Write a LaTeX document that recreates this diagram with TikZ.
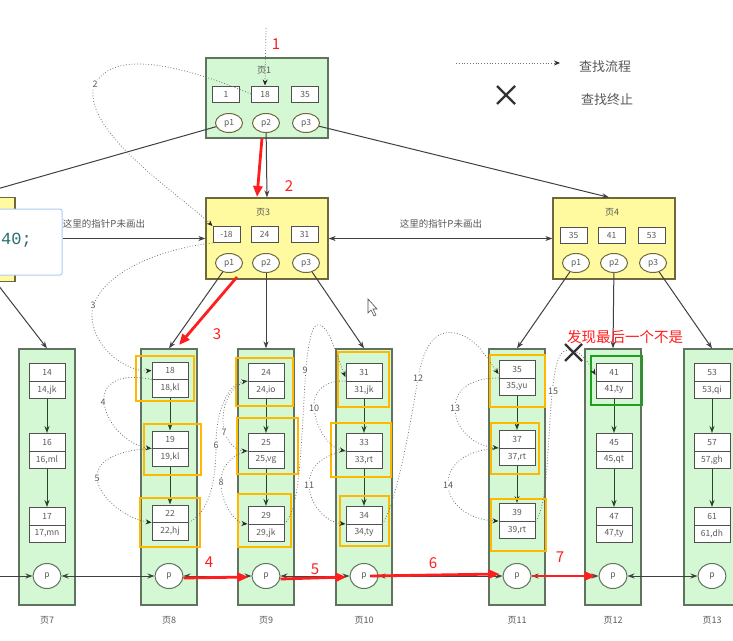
\documentclass[tikz,border=0pt]{standalone}
\usepackage{fontspec}
\setmainfont{Noto Sans CJK SC}
\newfontfamily\monof{Liberation Mono}
\usetikzlibrary{arrows.meta,shapes.geometric}
\definecolor{leafg}{RGB}{212,247,212}
\definecolor{leafb}{RGB}{95,115,95}
\definecolor{yel}{RGB}{255,250,160}
\definecolor{yelb}{RGB}{110,105,60}
\definecolor{keyb}{RGB}{80,80,80}
\definecolor{txt}{RGB}{90,90,90}
\definecolor{org}{RGB}{255,184,0}
\definecolor{hg}{RGB}{30,160,30}
\definecolor{rd}{RGB}{255,30,30}
\definecolor{dgreen}{RGB}{40,70,40}
\definecolor{tipb}{RGB}{170,205,240}
\definecolor{teal}{RGB}{40,110,110}
\tikzset{
 pagebox/.style={draw=leafb,line width=1.3pt,fill=leafg,inner sep=0},
 ypage/.style={draw=yelb,line width=1.3pt,fill=yel,inner sep=0},
 key/.style={draw=keyb,line width=1pt,fill=white,minimum width=27pt,minimum height=16pt,inner sep=0,font=\fontsize{8.5}{8.5}\selectfont,text=txt},
 ptr/.style={ellipse,draw=yelb,line width=1pt,fill=white,minimum width=27pt,minimum height=19pt,inner sep=0,font=\fontsize{8.5}{8.5}\selectfont,text=txt},
 leaf/.style={draw=leafb,line width=1.3pt,fill=leafg,minimum width=56pt,minimum height=256pt,inner sep=0},
 recbox/.style={draw=keyb,line width=1pt,fill=white,minimum width=36pt,minimum height=35pt,inner sep=0},
 rtext/.style={font=\fontsize{8.5}{8.5}\selectfont,text=txt,inner sep=0},
 pc/.style={ellipse,draw=leafb,line width=1pt,fill=white,minimum width=28pt,minimum height=25pt,inner sep=0,font=\fontsize{8.5}{8.5}\selectfont,text=txt},
 conn/.style={draw=black!75,line width=1pt,-{Stealth[length=7pt,width=5pt]}},
 dconn/.style={draw=black!75,line width=1pt,{Stealth[length=7pt,width=5pt]}-{Stealth[length=7pt,width=5pt]}},
 innerarr/.style={draw=dgreen,line width=1pt,-{Stealth[length=7pt,width=5pt]}},
 flow/.style={draw=black!55,dotted,line width=0.8pt,-{Stealth[length=6pt,width=5pt,color=black!85]}},
 flab/.style={font=\fontsize{9}{9}\selectfont,text=txt,fill=white,inner sep=0.5pt},
 redarr/.style={draw=rd,line width=2.8pt,-{Triangle[length=11pt,width=9pt]}},
 rlab/.style={font=\fontsize{15}{15}\selectfont,text=rd,inner sep=0},
 hl/.style={draw=org,line width=1.8pt},
 plab/.style={font=\fontsize{9}{9}\selectfont,text=txt,inner sep=0},
 xmark/.style={draw=black!80,line width=2.2pt},
}
\newcommand\rec[5]{%
 \node[recbox] (#1) at (#2,#3) {};
 \draw[draw=keyb,line width=1pt] (#1.west) -- (#1.east);
 \node[rtext] at ([yshift=8.75pt]#1.center) {#4};
 \node[rtext] at ([yshift=-8.75pt]#1.center) {#5};
}
\begin{document}
\begin{tikzpicture}[x=1pt,y=-1pt]
\fill[white] (0,0) rectangle (733,640);
\clip (0,0) rectangle (733,640);

% ---------- left partial page and overlay ----------
\node[ypage,minimum width=30pt,minimum height=84pt] (lpg) at (0,239.5) {};
\coordinate (lpb) at (-5,281);
\coordinate (offl) at (-10,191);

% ---------- page 1 ----------
\node[pagebox,minimum width=122pt,minimum height=80pt] (pg1) at (267,98) {};
\node[plab] (t1) at (264,70) {页1};
\node[key] (k11) at (226,94) {1};
\node[key] (k12) at (265,94) {18};
\node[key] (k13) at (305,94) {35};
\node[ptr] (e11) at (229,123) {p1};
\node[ptr] (e12) at (266,123) {p2};
\node[ptr] (e13) at (306,123) {p3};

% ---------- page 3 ----------
\node[ypage,minimum width=122pt,minimum height=81pt] (pg3) at (267,238.5) {};
\node[plab] (t3) at (263,212) {页3};
\node[key] (k31) at (226.5,234.5) {-18};
\node[key] (k32) at (264.5,234.5) {24};
\node[key] (k33) at (304.5,234.5) {31};
\node[ptr] (e31) at (229,263) {p1};
\node[ptr] (e32) at (266,263) {p2};
\node[ptr] (e33) at (306,263) {p3};

% ---------- page 4 ----------
\node[ypage,minimum width=122pt,minimum height=81pt] (pg4) at (614,238.5) {};
\node[plab] (t4) at (612,212) {页4};
\node[key] (k41) at (573.5,235) {35};
\node[key] (k42) at (611.5,235) {41};
\node[key] (k43) at (651.5,235) {53};
\node[ptr] (e41) at (576,263) {p1};
\node[ptr] (e42) at (614,263) {p2};
\node[ptr] (e43) at (653,263) {p3};

% ---------- upper connectors ----------
\draw[conn] (e11) -- (offl);
\draw[conn] (e12) -- (pg3.north);
\draw[conn] (e13) -- ([xshift=-5pt]pg4.north);

\node[draw=tipb,line width=1pt,fill=white,rounded corners=2pt,minimum width=67pt,minimum height=66pt,inner sep=0] (tipbox) at (28.5,242) {};
\node[font=\monof\fontsize{17}{17}\selectfont,text=teal,anchor=west,inner sep=0] (tiptext) at (1,240) {40;};

\draw[conn] (tipbox.east |- pg3.west) -- (pg3.west);
\node[font=\fontsize{9.5}{9.5}\selectfont,text=txt] (n1) at (104,224) {这里的指针P未画出};
\draw[dconn] (pg3.east) -- (pg4.west);
\node[font=\fontsize{9.5}{9.5}\selectfont,text=txt] (n2) at (441,224) {这里的指针P未画出};

% ---------- leaf pages ----------
\foreach \n/\x in {7/47,8/169,9/266,10/364,11/517,12/613,13/712}{
  \node[leaf] (L\n) at (\x,477) {};
  \node[plab] (lab\n) at (\x,620) {页\n};
}

\rec{r14}{47}{381}{14}{14,jk}
\rec{r16}{47}{451}{16}{16,ml}
\rec{r17}{47}{525}{17}{17,mn}
\rec{r18}{170}{379.5}{18}{18,kl}
\rec{r19}{170}{448.5}{19}{19,kl}
\rec{r22}{170}{522.5}{22}{22,hj}
\rec{r24}{266}{381}{24}{24,io}
\rec{r25}{266}{451}{25}{25,vg}
\rec{r29}{266}{524}{29}{29,jk}
\rec{r31}{364}{381}{31}{31,jk}
\rec{r33}{364}{451}{33}{33,rt}
\rec{r34}{364}{524}{34}{34,ty}
\rec{r35}{517}{378}{35}{35,yu}
\rec{r37}{517}{448}{37}{37,rt}
\rec{r39}{517}{521}{39}{39,rt}
\rec{r41}{614}{381}{41}{41,ty}
\rec{r45}{614}{451}{45}{45,qt}
\rec{r47}{614}{525}{47}{47,ty}
\rec{r53}{712}{381}{53}{53,qi}
\rec{r57}{712}{451}{57}{57,gh}
\rec{r61}{712}{525}{61}{61,dh}

\foreach \a/\b in {r14/r16,r16/r17,r18/r19,r19/r22,r24/r25,r25/r29,r31/r33,r33/r34,r35/r37,r37/r39,r41/r45,r45/r47,r53/r57,r57/r61}{
  \draw[innerarr] (\a.south) -- (\b.north);
}

\foreach \n/\x in {7/47,8/169,9/266,10/364,11/517,12/613,13/712}{
  \node[pc] (c\n) at (\x,576) {p};
}

% ---------- connectors to leaves ----------
\draw[conn] (lpb) -- (L7.north);
\draw[conn] (e31) -- (L8.north);
\draw[conn] (e32) -- (L9.north);
\draw[conn] (e33) -- (L10.north);
\draw[conn] (e41) -- (L11.north);
\draw[conn] (e42) -- (L12.north);
\draw[conn] (e43) -- (L13.north);

\coordinate (chl) at (-5,576);
\draw[conn] (chl) -- (c7);
\draw[dconn] (c7) -- (c8);
\draw[dconn] (c8) -- (c9);
\draw[dconn] (c9) -- (c10);
\draw[dconn] (c10) -- (c11);
\draw[dconn] (c11) -- (c12);
\draw[dconn] (c12) -- (c13);

% ---------- highlight boxes ----------
\draw[hl] (136,356) rectangle (194,401);
\draw[hl] (144,424) rectangle (201,475);
\draw[hl] (140,498) rectangle (200,547);
\draw[hl] (236,358) rectangle (293,406);
\draw[hl] (237,418) rectangle (298,474);
\draw[hl] (238,494) rectangle (291,547);
\draw[hl] (338,352) rectangle (389,407);
\draw[hl] (331,423) rectangle (391,477);
\draw[hl] (340,496) rectangle (389,546);
\draw[hl] (490,355) rectangle (545,407);
\draw[hl] (491,423) rectangle (539,474);
\draw[hl] (491,499) rectangle (546,551);
\draw[draw=hg,line width=1.8pt] (591,356) rectangle (642,405);

% ---------- search flow (dotted) ----------
\coordinate (topc) at (266,28);
\draw[flow] (topc) -- (k12.north);
\draw[flow] (k12.west) .. controls (170,60) and (105,50) .. (93,90) .. controls (88,135) and (180,195) .. (k31.north west);
\draw[flow] (k31.south west) .. controls (150,250) and (90,280) .. (92,318) .. controls (95,352) and (130,372) .. ([yshift=9pt]r18.west);
\draw[flow] (r18.west) .. controls (118,372) and (102,385) .. (104,402) .. controls (106,425) and (130,446) .. (r19.west);
\draw[flow] (r19.west) .. controls (115,450) and (96,462) .. (97,478) .. controls (99,500) and (130,520) .. (r22.west);
\draw[flow] (r22.east) .. controls (210,512) and (216,480) .. (216,445) .. controls (216,410) and (228,384) .. (r24.west);
\draw[flow] (r24.west) .. controls (228,386) and (220,410) .. (224,430) .. controls (228,445) and (238,451) .. (r25.west);
\draw[flow] (r25.west) .. controls (230,455) and (220,468) .. (221,485) .. controls (222,505) and (236,523) .. (r29.west);
\draw[flow] (r29.east) .. controls (298,510) and (300,470) .. (304,400) .. controls (307,340) and (312,322) .. (320,325) .. controls (330,328) and (338,360) .. ([yshift=4pt]r31.west);
\draw[flow] (r31.west) .. controls (325,380) and (312,392) .. (314,408) .. controls (316,430) and (330,448) .. (r33.west);
\draw[flow] (r33.west) .. controls (320,455) and (308,470) .. (309,485) .. controls (310,505) and (325,522) .. (r34.west);
\draw[flow] (r34.east) .. controls (395,505) and (408,440) .. (418,378) .. controls (425,338) and (440,330) .. (455,333) .. controls (475,337) and (485,355) .. ([yshift=4pt]r35.west);
\draw[flow] (r35.west) .. controls (470,378) and (455,390) .. (455,408) .. controls (455,430) and (475,446) .. (r37.west);
\draw[flow] (r37.west) .. controls (465,450) and (447,465) .. (448,485) .. controls (449,505) and (470,520) .. (r39.west);
\draw[flow] (r39.east) .. controls (545,510) and (547,470) .. (550,420) .. controls (553,375) and (556,352) .. (567,350) .. controls (580,349) and (588,362) .. ([yshift=6pt]r41.west);

\node[flab] (f2) at (95,84) {2};
\node[flab] (f3) at (93,305) {3};
\node[flab] (f4) at (103,402) {4};
\node[flab] (f5) at (97,478) {5};
\node[flab] (f6) at (216,445) {6};
\node[flab] (f7) at (224,432) {7};
\node[flab] (f8) at (221,482) {8};
\node[flab] (f9) at (305,370) {9};
\node[flab] (f10) at (314,408) {10};
\node[flab] (f11) at (309,485) {11};
\node[flab] (f12) at (418,378) {12};
\node[flab] (f13) at (455,408) {13};
\node[flab] (f14) at (448,485) {14};
\node[flab] (f15) at (553,391) {15};

% ---------- red search path ----------
\coordinate (r2s) at (262,138);
\coordinate (r2e) at (257,197);
\draw[redarr] (r2s) -- (r2e);
\coordinate (r3s) at (237,277);
\coordinate (r3e) at (179,345);
\draw[redarr] (r3s) -- (r3e);
\draw[redarr] ([yshift=-2pt]c8.east) -- ([xshift=-3pt,yshift=-1pt]c9.west);
\draw[redarr] ([yshift=-3pt]c9.east) -- ([xshift=-3pt,yshift=-1pt]c10.west);
\draw[redarr] ([xshift=6pt,yshift=0pt]c10.center) -- ([xshift=-3pt,yshift=2pt]c11.west);
\draw[redarr] ([yshift=0pt]c11.east) -- ([xshift=-3pt]c12.west);

\node[rlab] (n1r) at (276,44) {1};
\node[rlab] (n2r) at (289,186) {2};
\node[rlab] (n3r) at (217,334) {3};
\node[rlab] (n4r) at (209,562) {4};
\node[rlab] (n5r) at (315,569) {5};
\node[rlab] (n6r) at (433,563) {6};
\node[rlab] (n7r) at (560,557) {7};
\node[font=\fontsize{14.5}{14.5}\selectfont,text=rd,anchor=west,inner sep=0] (found) at (567,337) {发现最后一个不是};

% ---------- stop mark ----------
\draw[xmark] (565,344) -- (582,361) (582,344) -- (565,361);

% ---------- legend ----------
\coordinate (lg1) at (456,63);
\coordinate (lg2) at (560,63);
\draw[flow] (lg1) -- (lg2);
\node[font=\fontsize{13}{13}\selectfont,text=black!65] (lgt1) at (605,67) {查找流程};
\draw[xmark] (497,86) -- (515,104) (515,86) -- (497,104);
\node[font=\fontsize{13}{13}\selectfont,text=black!65] (lgt2) at (607,100) {查找终止};

% ---------- mouse cursor ----------
\draw[fill=white,draw=black!70,line width=0.6pt] (368,299) -- (368,313) -- (371,310) -- (374,316) -- (376,315) -- (373,309) -- (377,309) -- cycle;
\end{tikzpicture}
\end{document}
